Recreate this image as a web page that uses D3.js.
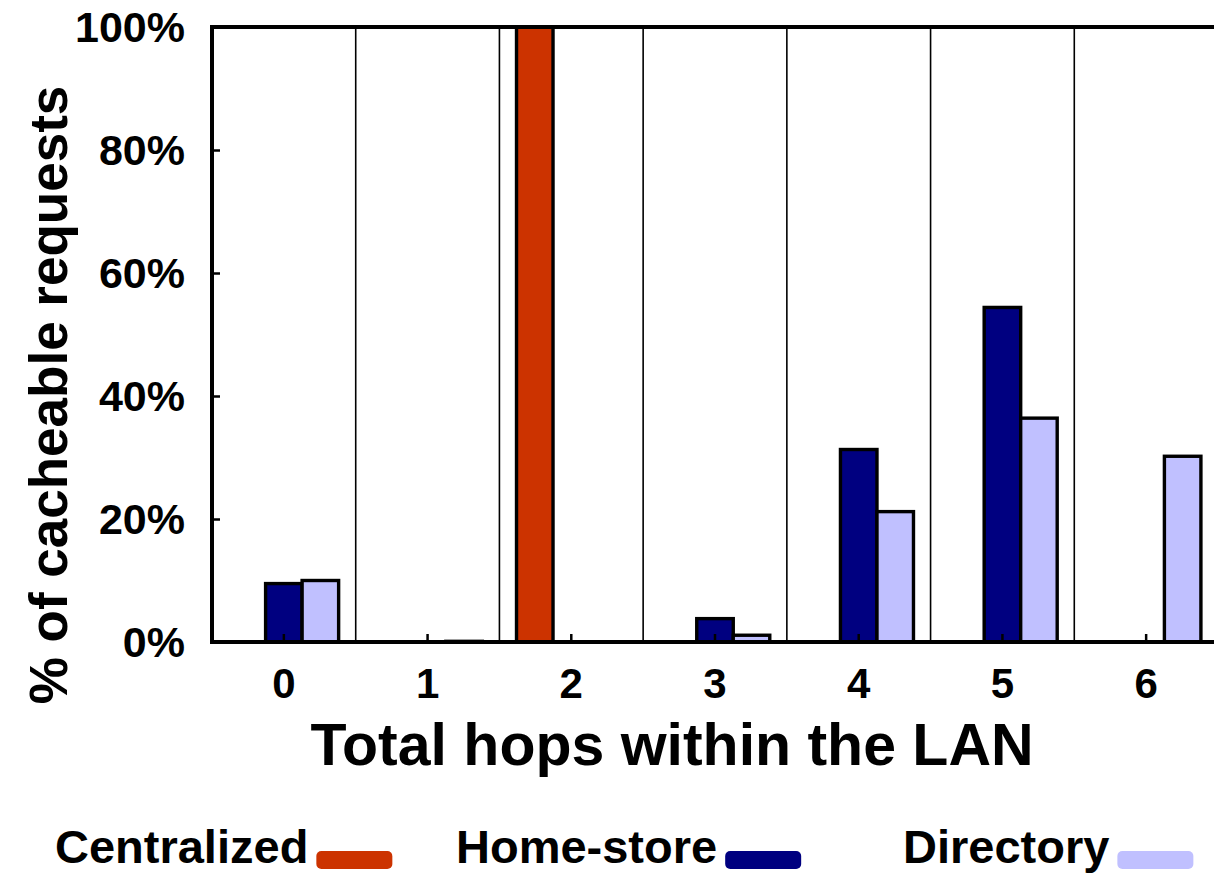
<!DOCTYPE html>
<html>
<head>
<meta charset="utf-8">
<script src="https://cdn.jsdelivr.net/npm/d3@7"></script>
<style>
  body { margin: 0; background: #fff; }
  text { font-family: "Liberation Sans", Arial, sans-serif; font-weight: bold; fill: #000; }
</style>
</head>
<body>
<div id="viz"></div>
<script>
const hops = ["0", "1", "2", "3", "4", "5", "6"];
const seriesNames = ["Centralized", "Home-store", "Directory"];
const centralized = [0, 0, 100, 0, 0, 0, 0];
const homeStore = [9.5, 0, 0, 3.8, 31.3, 54.4, 0];
const directory = [10, 0.2, 0, 1.1, 21.2, 36.4, 30.2];
const yTicks = [0, 20, 40, 60, 80, 100];

const colors = ["#cc3300", "#000080", "#c0c0ff"];
const seriesValues = [centralized, homeStore, directory];

const width = 1214, height = 875;
const margin = { left: 212, right: -4, top: 27, bottom: 233 };

const svg = d3.select("#viz").append("svg")
    .attr("width", width)
    .attr("height", height);

const x0 = d3.scaleBand()
    .domain(hops)
    .range([margin.left, width - margin.right]);

const x1 = d3.scaleBand()
    .domain(seriesNames)
    .range([0, x0.bandwidth()])
    .paddingOuter(0.468);

const y = d3.scaleLinear()
    .domain([0, 100])
    .range([height - margin.bottom, margin.top]);

// boundaries between categories
svg.selectAll(".grid")
    .data(hops.slice(1))
    .join("line")
        .attr("class", "grid")
        .attr("x1", d => x0(d))
        .attr("x2", d => x0(d))
        .attr("y1", y(100))
        .attr("y2", y(0))
        .attr("stroke", "#000")
        .attr("stroke-width", 1.6);

// bars
const rows = hops.map((h, i) => ({
    hop: h,
    bars: seriesNames.map((s, j) => ({ name: s, value: seriesValues[j][i], color: colors[j] }))
}));

const gHop = svg.selectAll(".hop")
    .data(rows)
    .join("g")
        .attr("class", "hop")
        .attr("transform", d => `translate(${x0(d.hop)},0)`);

gHop.selectAll("rect")
    .data(d => d.bars.filter(b => b.value > 0))
    .join("rect")
        .attr("x", d => x1(d.name))
        .attr("y", d => y(d.value))
        .attr("width", x1.bandwidth())
        .attr("height", d => y(0) - y(d.value))
        .attr("fill", d => d.color)
        .attr("stroke", d => d.value < 0.5 ? "#999" : "#000")
        .attr("stroke-width", 3.4);

// y axis ticks (inward)
const yAxis = d3.axisRight(y)
    .tickValues(yTicks)
    .tickSize(8)
    .tickFormat("");
svg.append("g")
    .attr("transform", `translate(${margin.left},0)`)
    .call(yAxis)
    .call(g => g.select(".domain").remove())
    .call(g => g.selectAll(".tick line").attr("stroke", "#000").attr("stroke-width", 2.5));

svg.selectAll(".ylab")
    .data(yTicks)
    .join("text")
        .attr("class", "ylab")
        .attr("x", 185)
        .attr("y", d => y(d))
        .attr("dy", "0.36em")
        .attr("text-anchor", "end")
        .style("font-size", "43px")
        .text(d => d + "%");

// x axis ticks (inward)
const xAxis = d3.axisTop(x0)
    .tickSize(8)
    .tickFormat("");
svg.append("g")
    .attr("transform", `translate(0,${y(0)})`)
    .call(xAxis)
    .call(g => g.select(".domain").remove())
    .call(g => g.selectAll(".tick line").attr("stroke", "#000").attr("stroke-width", 2.5));

svg.selectAll(".xlab")
    .data(hops)
    .join("text")
        .attr("class", "xlab")
        .attr("x", d => x0(d) + x0.bandwidth() / 2)
        .attr("y", 698)
        .attr("text-anchor", "middle")
        .style("font-size", "42px")
        .text(d => d);

// frame: top, left, bottom
svg.append("path")
    .attr("d", `M${width},${y(100)}H${margin.left}V${y(0)}H${width}`)
    .attr("fill", "none")
    .attr("stroke", "#000")
    .attr("stroke-width", 4);

// axis titles
svg.append("text")
    .attr("x", 672)
    .attr("y", 765)
    .attr("text-anchor", "middle")
    .style("font-size", "59px")
    .text("Total hops within the LAN");

svg.append("text")
    .attr("transform", "translate(67,395) rotate(-90)")
    .attr("text-anchor", "middle")
    .style("font-size", "53px")
    .text("% of cacheable requests");

// legend
const legendX = [55, 456, 903];
const legend = svg.selectAll(".legend")
    .data(seriesNames)
    .join("g")
        .attr("class", "legend")
        .attr("transform", (d, i) => `translate(${legendX[i]},0)`);

legend.append("text")
    .attr("x", 0)
    .attr("y", 863)
    .style("font-size", "47px")
    .text(d => d);

legend.each(function (d, i) {
    const g = d3.select(this);
    const w = g.select("text").node().getComputedTextLength();
    g.append("rect")
        .attr("x", w + 8)
        .attr("y", 851)
        .attr("width", 76)
        .attr("height", 18)
        .attr("rx", 5)
        .attr("fill", colors[i]);
});
</script>
</body>
</html>
